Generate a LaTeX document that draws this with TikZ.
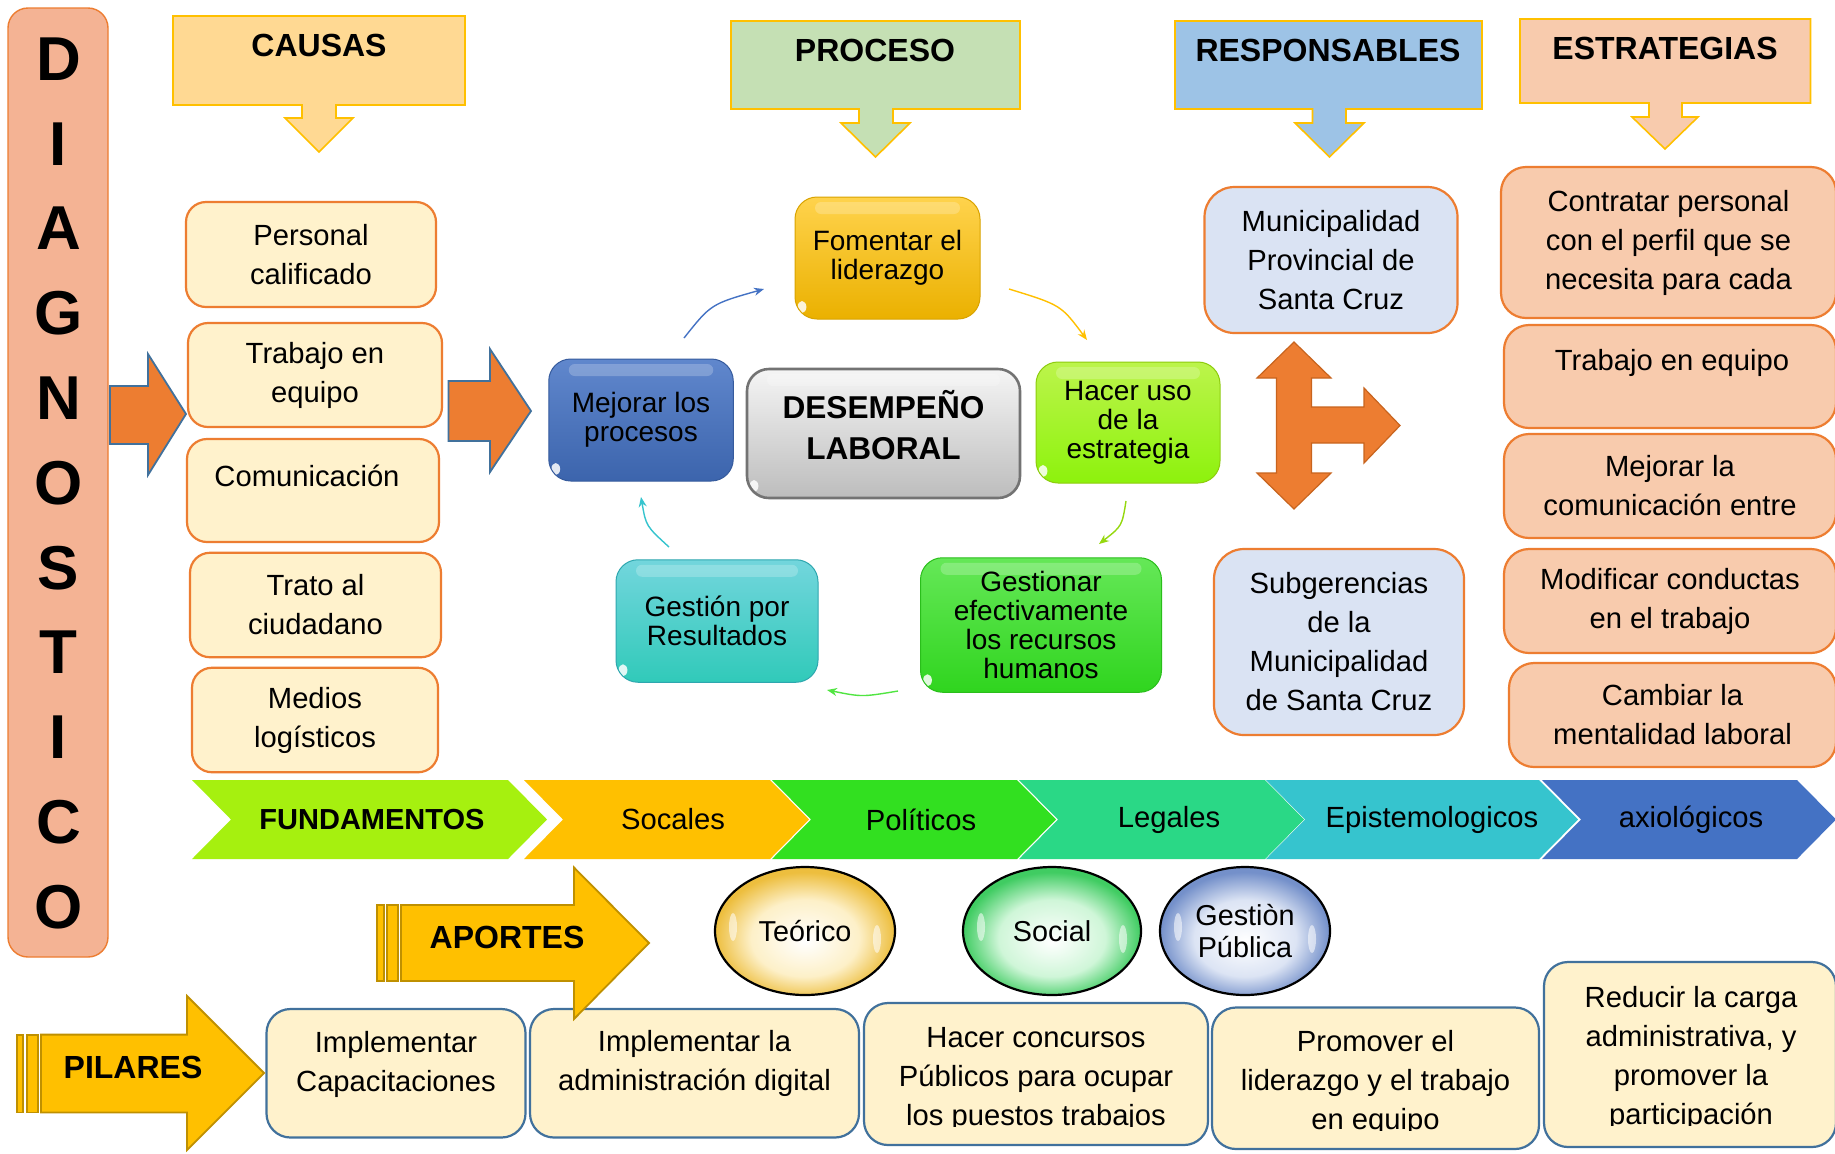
\documentclass[tikz,border=0pt]{standalone}
\usepackage{fontspec}
\setmainfont{Liberation Sans}
\usetikzlibrary{arrows.meta,shapes.geometric,shadings}
\definecolor{orA}{HTML}{ED7D31}
\definecolor{orB}{HTML}{C8641E}
\definecolor{cream}{HTML}{FFF2CC}
\definecolor{blueB}{HTML}{41719C}
\definecolor{goldB}{HTML}{BF9000}
\definecolor{yel}{HTML}{FFC000}
\definecolor{diagfill}{HTML}{F4B394}
\definecolor{causfill}{HTML}{FFD993}
\definecolor{procfill}{HTML}{C5E0B4}
\definecolor{respfillH}{HTML}{9DC3E6}
\definecolor{estrfill}{HTML}{F8CBAD}
\definecolor{respfill}{HTML}{DAE3F3}
\definecolor{chA}{HTML}{A6F00F}
\definecolor{chB}{HTML}{FFC000}
\definecolor{chC}{HTML}{32E020}
\definecolor{chD}{HTML}{2AD886}
\definecolor{chE}{HTML}{36C4CE}
\definecolor{chF}{HTML}{4472C4}
\definecolor{eyA}{HTML}{FDF0C8}
\definecolor{eyB}{HTML}{EDBE3E}
\definecolor{egA}{HTML}{CFF6D8}
\definecolor{egB}{HTML}{40CC62}
\definecolor{ebA}{HTML}{DCE4F4}
\definecolor{ebB}{HTML}{7490CA}
\pgfdeclareradialshading{eggy}{\pgfpoint{0bp}{-4bp}}{color(0bp)=(white); color(15bp)=(eyA); color(25bp)=(eyB); color(50bp)=(eyB)}
\pgfdeclareradialshading{eggg}{\pgfpoint{0bp}{-4bp}}{color(0bp)=(white); color(15bp)=(egA); color(25bp)=(egB); color(50bp)=(egB)}
\pgfdeclareradialshading{eggb}{\pgfpoint{0bp}{-4bp}}{color(0bp)=(white); color(15bp)=(ebA); color(25bp)=(ebB); color(50bp)=(ebB)}
\newcommand\ftx{\fontsize{14.6}{19.5}\selectfont}
\newcommand\fpr{\fontsize{14}{14.5}\selectfont}
\newcommand\fhd{\fontsize{16}{19}\selectfont\bfseries}
\newcommand\fdg{\fontsize{31}{31}\selectfont\bfseries}
\begin{document}
\begin{tikzpicture}[x=0.5pt,y=-0.5pt,
  causa/.style={draw=orA,line width=1.1pt,fill=cream,rounded corners=10pt,align=center,font=\ftx,inner sep=0pt},
  resp/.style={causa,fill=respfill,rounded corners=15pt},
  estr/.style={causa,fill=estrfill,rounded corners=12.5pt},
  pilar/.style={draw=blueB,line width=1.1pt,fill=cream,rounded corners=12pt,inner sep=0pt},
  ptext/.style={align=center,font=\ftx,inner sep=0pt},
  gloss/.style={rounded corners=11pt,inner sep=0pt,align=center,font=\fpr,line width=0.5pt,
    path picture={
      \fill[white,opacity=0.22,rounded corners=3pt] ([xshift=10pt,yshift=-2.5pt]path picture bounding box.north west) rectangle ([xshift=-10pt,yshift=-8.5pt]path picture bounding box.north east);
      \fill[white,opacity=0.85] ([xshift=3.5pt,yshift=6pt]path picture bounding box.south west) ellipse (2.2pt and 3pt);
    }},
  egggloss/.style={path picture={
      \fill[white,opacity=0.55] ([xshift=9pt,yshift=2pt]path picture bounding box.west) ellipse (2pt and 7pt);
      \fill[white,opacity=0.55] ([xshift=-9pt,yshift=-4pt]path picture bounding box.east) ellipse (2pt and 7pt);
    }},
  hdr/.style={draw=yel,line width=0.8pt},
  htext/.style={font=\fhd,inner sep=0pt},
  block/.style={fill=orA,draw=blueB,line width=0.9pt},
  goldarrow/.style={fill=yel,draw=goldB,line width=0.9pt},
  ctext/.style={font=\ftx,inner sep=0pt},
  egg/.style={ellipse,draw=black,line width=1.1pt,inner sep=0pt,align=center,font=\fontsize{14.4}{16}\selectfont,egggloss},
  cyc/.style={line width=0.7pt,-{Stealth[length=5pt,width=4pt]}},
]
\useasboundingbox (0,0) rectangle (1835,1153);
\fill[white] (0,0) rectangle (1835,1153);

% DIAGNOSTICO bar
\node[draw=orA,line width=0.7pt,fill=diagfill,rounded corners=10pt,minimum width=50pt,minimum height=474.5pt,inner sep=0pt] (diag) at (58,482.5) {};
\foreach \L [count=\i from 0] in {D,I,A,G,N,O,S,T,I,C,O}
  \node[font=\fdg,inner sep=0pt] (dg\i) at (58.5,{59+84.8*\i}) {\L};

% headers
\path[hdr,fill=causfill] (173,16) -- (465,16) -- (465,105) -- (336,105) -- (336,118) -- (353,118) -- (319,152) -- (285,118) -- (302,118) -- (302,105) -- (173,105) -- cycle;
\node[htext] (hcaus) at (319,45) {CAUSAS};
\path[hdr,fill=procfill] (731,21) -- (1020,21) -- (1020,109) -- (893,109) -- (893,123) -- (910,123) -- (875.5,157) -- (841,123) -- (859,123) -- (859,109) -- (731,109) -- cycle;
\node[htext] (hproc) at (875,50) {PROCESO};
\path[hdr,fill=respfillH] (1175,21) -- (1482,21) -- (1482,109) -- (1346,109) -- (1346,123) -- (1364,123) -- (1329.5,157) -- (1295,123) -- (1312.5,123) -- (1312.5,109) -- (1175,109) -- cycle;
\node[htext] (hresp) at (1328,50) {RESPONSABLES};
\path[hdr,fill=estrfill] (1520,19) -- (1810.5,19) -- (1810.5,103) -- (1682,103) -- (1682,117) -- (1698,117) -- (1665,149) -- (1632,117) -- (1649,117) -- (1649,103) -- (1520,103) -- cycle;
\node[htext] (hestr) at (1665,48) {ESTRATEGIAS};

% causas
\node[causa,minimum width=125pt,minimum height=52.5pt] (c1) at (311,254.5) {Personal\\calificado};
\node[causa,minimum width=127pt,minimum height=52pt] (c2) at (315,375) {Trabajo en\\equipo};
\node[causa,minimum width=126pt,minimum height=51.5pt] (c3) at (313,490.5) {};
\node[ctext] (c3t) at (307,476) {Comunicación};
\node[causa,minimum width=125.5pt,minimum height=52.25pt] (c4) at (315.5,605) {Trato al\\ciudadano};
\node[causa,minimum width=123pt,minimum height=52.25pt] (c5) at (315,720) {Medios\\logísticos};

% orange block arrows
\path[block] (110,386) -- (148,386) -- (148,354) -- (186,414) -- (148,475) -- (148,444) -- (110,444) -- cycle;
\path[block] (448.5,381) -- (490,381) -- (490,349) -- (531,411) -- (490,472) -- (490,441) -- (448.5,441) -- cycle;

% process
\node[gloss,top color=yel!70!white,bottom color=yel!92!black,draw=yel!85!black,minimum width=92.5pt,minimum height=61pt] (p1) at (887.5,258) {Fomentar el\\liderazgo};
\node[gloss,top color=chF!85!white,bottom color=chF!88!black,draw=chF!80!black,minimum width=92.25pt,minimum height=61pt] (p2) at (641,420) {Mejorar los\\procesos};
\node[gloss,top color=white!96!black,bottom color=white!74!black,draw=white!45!black,line width=1.3pt,minimum width=136.5pt,minimum height=64.5pt] (p0) at (883.5,433.5) {};
\node[inner sep=0pt,align=center,font=\fontsize{15.8}{20.5}\selectfont\bfseries] (p0t) at (883.5,425) {DESEMPEÑO\\LABORAL};
\node[gloss,top color=chA!75!white,bottom color=chA!85!green,draw=chA!85!black,minimum width=92pt,minimum height=60.5pt] (p3) at (1128,422.5) {Hacer uso\\de la\\estrategia};
\node[gloss,top color=chC!75!white,bottom color=chC!95!black,draw=chC!85!black,minimum width=120.5pt,minimum height=67.25pt] (p4) at (1041,625) {Gestionar\\efectivamente\\los recursos\\humanos};
\node[gloss,top color=chE!70!white,bottom color=chE!90!green,draw=chE!85!black,minimum width=101pt,minimum height=61.25pt] (p5) at (717,621) {Gestión por\\Resultados};

% cycle connectors
\coordinate (a1s) at (684,338); \coordinate (a1e) at (764,289);
\coordinate (a2s) at (1009,289); \coordinate (a2e) at (1087,340);
\coordinate (a3s) at (1126,501); \coordinate (a3e) at (1099,544);
\coordinate (a4s) at (898,691); \coordinate (a4e) at (827,690);
\coordinate (a5s) at (669,547); \coordinate (a5e) at (641,497);
\draw[cyc,chF] (a1s) .. controls (711,304) .. (a1e);
\draw[cyc,yel] (a2s) .. controls (1061,305) .. (a2e);
\draw[cyc,chA!90!black] (a3s) .. controls (1122,526) .. (a3e);
\draw[cyc,chC!85!white] (a4s) .. controls (862,697) .. (a4e);
\draw[cyc,chE] (a5s) .. controls (646,526) .. (a5e);

% responsables
\node[resp,minimum width=126.5pt,minimum height=73pt] (r1) at (1331,260) {Municipalidad\\Provincial de\\Santa Cruz};
\node[resp,minimum width=125pt,minimum height=93pt] (r2) at (1339,642) {Subgerencias\\de la\\Municipalidad\\de Santa Cruz};
\path[fill=orA,draw=orB,line width=0.6pt] (1294,342) -- (1331,378) -- (1311.5,378) -- (1311.5,407) -- (1364,407) -- (1364,388) -- (1400,425.5) -- (1364,463) -- (1364,443) -- (1311.5,443) -- (1311.5,473) -- (1331,473) -- (1294,509) -- (1257,473) -- (1276.5,473) -- (1276.5,378) -- (1257,378) -- cycle;

% estrategias
\node[estr,minimum width=167.5pt,minimum height=75.5pt] (s1) at (1668.5,242.5) {Contratar personal\\con el perfil que se\\necesita para cada};
\node[estr,minimum width=166pt,minimum height=51.5pt] (s2) at (1670,376.5) {};
\node[ctext] (s2t) at (1672,363) {Trabajo en equipo};
\node[estr,minimum width=166pt,minimum height=52pt] (s3) at (1670,486) {Mejorar la\\comunicación entre};
\node[estr,minimum width=166pt,minimum height=52pt] (s4) at (1670,601) {Modificar conductas\\en el trabajo};
\node[estr,minimum width=163.5pt,minimum height=52pt] (s5) at (1672.5,715) {Cambiar la\\mentalidad laboral};

% fundamentos chevrons
\fill[chA] (192,780) -- (508,780) -- (547,819.5) -- (508,859) -- (192,859) -- (231,819.5) -- cycle;
\fill[chB] (524,780) -- (770,780) -- (809,819.5) -- (770,859) -- (524,859) -- (563,819.5) -- cycle;
\fill[chC] (772,780) -- (1017,780) -- (1056,819.5) -- (1017,859) -- (772,859) -- (811,819.5) -- cycle;
\fill[chD] (1019,780) -- (1265,780) -- (1304,819.5) -- (1265,859) -- (1019,859) -- (1058,819.5) -- cycle;
\fill[chE] (1266,780) -- (1539,780) -- (1578,819.5) -- (1539,859) -- (1266,859) -- (1305,819.5) -- cycle;
\fill[chF] (1542,780) -- (1797,780) -- (1836,819.5) -- (1797,859) -- (1542,859) -- (1581,819.5) -- cycle;
\node[ctext,font=\fontsize{14.5}{17}\selectfont\bfseries] (f1) at (372,819.5) {FUNDAMENTOS};
\node[ctext] (f2) at (673,819.5) {Socales};
\node[ctext] (f3) at (921,819.5) {Políticos};
\node[ctext] (f4) at (1169,819.5) {Legales};
\node[ctext] (f5) at (1432,819.5) {Epistemologicos};
\node[ctext] (f6) at (1691,819.5) {axiológicos};

% aportes ellipses
\node[egg,shading=eggy,minimum width=90pt,minimum height=64pt] (e1) at (805,931) {Teórico};
\node[egg,shading=eggg,minimum width=89pt,minimum height=64pt] (e2) at (1052,931) {Social};
\node[egg,shading=eggb,minimum width=85pt,minimum height=64pt] (e3) at (1245,931) {Gestiòn\\Pública};

% pilares boxes
\node[pilar,minimum width=129.5pt,minimum height=64.25pt] (b1) at (396,1073.25) {};
\node[pilar,minimum width=164.5pt,minimum height=64.25pt] (b2) at (694.5,1073.25) {};
\node[pilar,minimum width=172pt,minimum height=71pt] (b3) at (1036,1074) {};
\node[pilar,minimum width=163.5pt,minimum height=70.75pt] (b4) at (1375.5,1078.25) {};
\node[pilar,minimum width=146pt,minimum height=92.5pt] (b5) at (1690,1054.5) {};
\node[ptext] (t1) at (396,1064) {Implementar\\Capacitaciones};
\node[ptext] (t2) at (694.5,1063.5) {Implementar la\\administración digital};
\begin{scope}
\clip (864,990) rectangle (1208,1126);
\node[ptext] (t3) at (1036,1079) {Hacer concursos\\Públicos para ocupar\\los puestos trabajos};
\end{scope}
\begin{scope}
\clip (1212,990) rectangle (1539,1130);
\node[ptext] (t4) at (1375.5,1083) {Promover el\\liderazgo y el trabajo\\en equipo};
\end{scope}
\begin{scope}
\clip (1544,950) rectangle (1836,1125);
\node[ptext] (t5) at (1691,1058.75) {Reducir la carga\\administrativa, y\\promover la\\participación};
\end{scope}

% APORTES arrow
\path[goldarrow] (377,905) rectangle (384,981);
\path[goldarrow] (387,905) rectangle (398,981);
\path[goldarrow] (401,905) -- (574,905) -- (574,867.5) -- (649,943) -- (574,1019) -- (574,981) -- (401,981) -- cycle;
\node[htext] (ap) at (507,937.5) {APORTES};

% PILARES arrow
\path[goldarrow] (17,1034.6) rectangle (23,1112.5);
\path[goldarrow] (27,1034.6) rectangle (38,1112.5);
\path[goldarrow] (41,1034.6) -- (187,1034.6) -- (187,996) -- (264,1073) -- (187,1150) -- (187,1112.5) -- (41,1112.5) -- cycle;
\node[htext] (pi) at (133,1067) {PILARES};
\end{tikzpicture}
\end{document}
